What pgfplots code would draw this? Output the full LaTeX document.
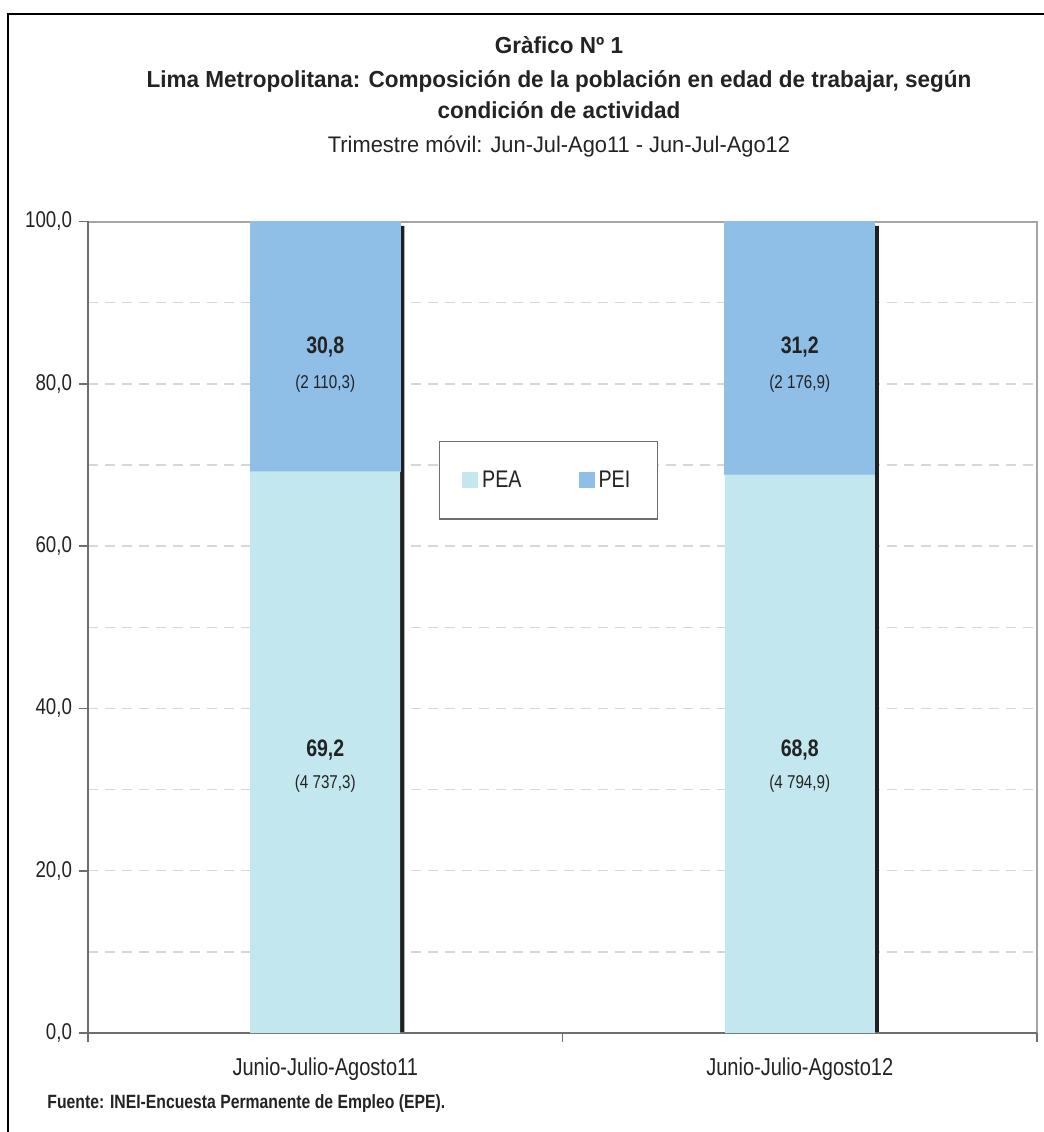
\documentclass[border=0pt]{standalone}
\usepackage{fontspec}
\setmainfont{Liberation Sans}[FakeStretch=0.82]
\newfontfamily\titlefont{Liberation Sans}[FakeStretch=0.97]
\usepackage{pgfplots}
\pgfplotsset{compat=1.18}
\usepackage{pgfplotstable}

\definecolor{pea}{RGB}{194,231,239}
\definecolor{pei}{RGB}{143,190,230}
\definecolor{gridc}{RGB}{215,215,215}
\definecolor{axisdark}{RGB}{110,110,110}
\definecolor{axislight}{RGB}{165,165,165}
\definecolor{txt}{RGB}{35,35,35}

\pgfplotstableread{
x pea pei
0.5 69.2 30.8
1.5 68.8 31.2
}\datatbl

\pgfplotstableread[col sep=semicolon]{
x;y;l
0.5;84.5;30,8
1.5;84.5;31,2
0.5;34.9;69,2
1.5;34.9;68,8
}\boldtbl

\pgfplotstableread[col sep=semicolon]{
x;y;l
0.5;80.0;(2 110,3)
1.5;80.0;(2 176,9)
0.5;30.7;(4 737,3)
1.5;30.7;(4 794,9)
}\partbl

\pgfplotsset{myaxis/.style={scale only axis, width=474.5pt, height=405.75pt,
  xmin=0, xmax=2, ymin=0, ymax=100, at={(0,0)}, anchor=south west}}

\begin{document}
\begin{tikzpicture}
\begin{scope}[x=0.5pt,y=-0.5pt,shift={(-44pt,516.5pt)}]
\useasboundingbox (0,0) rectangle (1040,1132);
\draw[line width=1.2pt,black] (8,1145) -- (8,14) -- (1050,14);
\node[anchor=base,font=\titlefont\bfseries\fontsize{11.6}{13}\selectfont,text=txt] at (559,54) {Gràfico Nº 1};
\node[anchor=base,font=\titlefont\bfseries\fontsize{11.6}{13}\selectfont,text=txt] at (559,88) {Lima Metropolitana: Composición de la población en edad de trabajar, según};
\node[anchor=base,font=\titlefont\bfseries\fontsize{11.6}{13}\selectfont,text=txt] at (559,119) {condición de actividad};
\node[anchor=base,font=\titlefont\fontsize{11.26}{13}\selectfont,text=txt] at (559,153) {Trimestre móvil: Jun-Jul-Ago11 - Jun-Jul-Ago12};
\node[anchor=west,font=\bfseries\fontsize{9.6}{11}\selectfont,text=txt,inner sep=0pt] at (47,1104) {Fuente: INEI-Encuesta Permanente de Empleo (EPE).};
\end{scope}

\begin{axis}[myaxis,
  axis line style={draw=axislight, line width=1pt},
  xtick=\empty, ytick={0,20,...,100}, minor ytick={10,30,...,90},
  yticklabels={}, ymajorgrids, yminorgrids,
  major grid style={gridc, dash pattern=on 5pt off 3.5pt, line width=0.7pt},
  minor grid style={gridc, dash pattern=on 5pt off 3.5pt, line width=0.7pt},
  tick style={draw=none}]
\addplot[ybar, bar width=75pt, bar shift=2pt, fill=black!88, draw=none] coordinates {(0.5,99.45) (1.5,99.45)};
\end{axis}

\begin{axis}[myaxis, ybar stacked, bar width=75pt,
  axis x line*=bottom, axis y line*=left,
  axis line style={draw=axisdark, line width=1pt, -},
  ytick={0,20,...,100}, xtick={0,1,2}, xticklabels={},
  extra x ticks={0.5,1.5},
  extra x tick labels={Junio-Julio-Agosto11,Junio-Julio-Agosto12},
  extra x tick style={major tick length=0pt, xticklabel style={yshift=-9pt}},
  tick align=outside, major tick length=4.5pt,
  tick style={draw=axisdark, line width=0.8pt},
  xticklabel style={font=\fontsize{12.2}{14}\selectfont, text=txt},
  yticklabel style={font=\fontsize{11.4}{13}\selectfont, text=txt,
    /pgf/number format/.cd, fixed, fixed zerofill, precision=1, use comma},
  /pgf/number format/assume math mode=true,
  legend style={at={(0.485,0.681)}, anchor=center, draw=axisdark, line width=0.7pt,
    font=\fontsize{12}{14}\selectfont, text=txt, inner xsep=11.5pt, inner ysep=12.5pt,
    /tikz/every even column/.append style={column sep=26.5pt}},
  legend columns=2,
  legend image code/.code={\draw[#1,draw=none] (0pt,-4pt) rectangle (8pt,4pt);}
]
\addplot[fill=pea, draw=none] table[x=x,y=pea] {\datatbl};
\addplot[fill=pei, draw=pei, line width=0.4pt] table[x=x,y=pei] {\datatbl};
\legend{PEA,PEI}
\end{axis}

\begin{axis}[myaxis, hide axis]
\addplot[only marks, mark=none, nodes near coords, point meta=explicit symbolic,
  every node near coord/.style={anchor=center, text=txt, font=\bfseries\fontsize{11.9}{14}\selectfont}]
  table[x=x,y=y,meta=l] {\boldtbl};
\addplot[only marks, mark=none, nodes near coords, point meta=explicit symbolic,
  every node near coord/.style={anchor=center, text=txt, font=\fontsize{9.27}{11}\selectfont}]
  table[x=x,y=y,meta=l] {\partbl};
\end{axis}
\end{tikzpicture}
\end{document}
